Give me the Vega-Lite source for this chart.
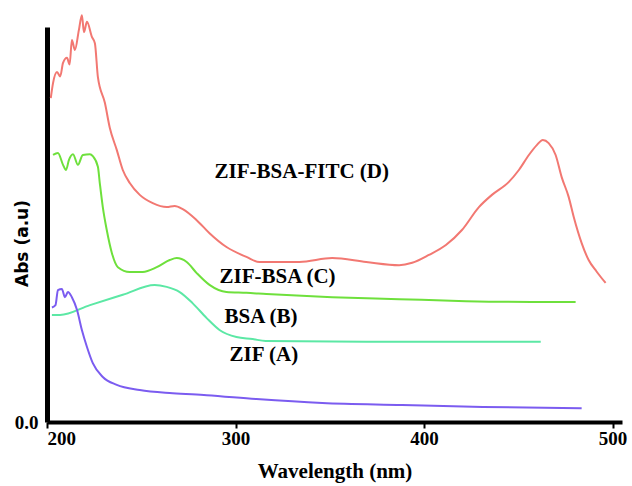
{
  "$schema": "https://vega.github.io/schema/vega-lite/v6.json",
  "width": 575,
  "height": 395,
  "autosize": "none",
  "padding": {"left": 47, "top": 27, "right": 10, "bottom": 64},
  "background": "white",
  "config": {"view": {"stroke": null}},
  "layer": [
    {
      "data": {"values": [
        {"s":"D","wl":202.0,"abs":0.82},{"s":"D","wl":203.2,"abs":0.858},{"s":"D","wl":205.3,"abs":0.886},{"s":"D","wl":207.0,"abs":0.875},{"s":"D","wl":208.5,"abs":0.909},{"s":"D","wl":210.6,"abs":0.922},{"s":"D","wl":212.0,"abs":0.905},{"s":"D","wl":213.2,"abs":0.967},{"s":"D","wl":214.8,"abs":0.942},{"s":"D","wl":216.9,"abs":0.992},{"s":"D","wl":218.5,"abs":1.030},{"s":"D","wl":219.6,"abs":0.987},{"s":"D","wl":221.2,"abs":1.013},{"s":"D","wl":223.8,"abs":0.975},{"s":"D","wl":225.4,"abs":0.959},{"s":"D","wl":227.0,"abs":0.873},{"s":"D","wl":230.7,"abs":0.808},{"s":"D","wl":233.3,"abs":0.745},{"s":"D","wl":237.0,"abs":0.689},{"s":"D","wl":240.2,"abs":0.638},{"s":"D","wl":243.9,"abs":0.605},{"s":"D","wl":249.2,"abs":0.575},{"s":"D","wl":256.1,"abs":0.554},{"s":"D","wl":263.5,"abs":0.544},{"s":"D","wl":267.7,"abs":0.547},{"s":"D","wl":272.0,"abs":0.539},{"s":"D","wl":279.4,"abs":0.511},{"s":"D","wl":286.2,"abs":0.478},{"s":"D","wl":295.2,"abs":0.443},{"s":"D","wl":305.8,"abs":0.418},{"s":"D","wl":312.7,"abs":0.405},{"s":"D","wl":333.9,"abs":0.405},{"s":"D","wl":351.3,"abs":0.415},{"s":"D","wl":369.3,"abs":0.405},{"s":"D","wl":386.8,"abs":0.397},{"s":"D","wl":393.7,"abs":0.403},{"s":"D","wl":402.6,"abs":0.423},{"s":"D","wl":411.6,"abs":0.448},{"s":"D","wl":420.1,"abs":0.486},{"s":"D","wl":429.1,"abs":0.544},{"s":"D","wl":436.0,"abs":0.575},{"s":"D","wl":445.0,"abs":0.608},{"s":"D","wl":450.3,"abs":0.638},{"s":"D","wl":455.6,"abs":0.676},{"s":"D","wl":459.8,"abs":0.701},{"s":"D","wl":463.0,"abs":0.714},{"s":"D","wl":466.1,"abs":0.706},{"s":"D","wl":469.8,"abs":0.676},{"s":"D","wl":473.0,"abs":0.620},{"s":"D","wl":476.7,"abs":0.570},{"s":"D","wl":479.4,"abs":0.519},{"s":"D","wl":483.6,"abs":0.453},{"s":"D","wl":487.3,"abs":0.410},{"s":"D","wl":491.5,"abs":0.381},{"s":"D","wl":496.3,"abs":0.352},
        {"s":"C","wl":203.2,"abs":0.676},{"s":"C","wl":205.8,"abs":0.681},{"s":"C","wl":208.5,"abs":0.651},{"s":"C","wl":210.1,"abs":0.638},{"s":"C","wl":211.6,"abs":0.663},{"s":"C","wl":213.8,"abs":0.678},{"s":"C","wl":216.4,"abs":0.651},{"s":"C","wl":219.0,"abs":0.676},{"s":"C","wl":222.8,"abs":0.678},{"s":"C","wl":224.3,"abs":0.673},{"s":"C","wl":227.0,"abs":0.646},{"s":"C","wl":228.0,"abs":0.605},{"s":"C","wl":229.6,"abs":0.544},{"s":"C","wl":231.7,"abs":0.486},{"s":"C","wl":234.4,"abs":0.428},{"s":"C","wl":237.6,"abs":0.392},{"s":"C","wl":243.9,"abs":0.380},{"s":"C","wl":250.8,"abs":0.380},{"s":"C","wl":258.2,"abs":0.392},{"s":"C","wl":265.1,"abs":0.410},{"s":"C","wl":268.8,"abs":0.415},{"s":"C","wl":274.1,"abs":0.405},{"s":"C","wl":279.4,"abs":0.377},{"s":"C","wl":286.2,"abs":0.347},{"s":"C","wl":295.2,"abs":0.329},{"s":"C","wl":305.8,"abs":0.327},{"s":"C","wl":316.4,"abs":0.324},{"s":"C","wl":351.3,"abs":0.316},{"s":"C","wl":386.8,"abs":0.311},{"s":"C","wl":422.2,"abs":0.306},{"s":"C","wl":457.1,"abs":0.304},{"s":"C","wl":480.4,"abs":0.304},
        {"s":"B","wl":202.6,"abs":0.271},{"s":"B","wl":206.9,"abs":0.271},{"s":"B","wl":222.8,"abs":0.296},{"s":"B","wl":240.2,"abs":0.322},{"s":"B","wl":257.1,"abs":0.347},{"s":"B","wl":263.5,"abs":0.342},{"s":"B","wl":270.4,"abs":0.329},{"s":"B","wl":277.2,"abs":0.301},{"s":"B","wl":284.7,"abs":0.263},{"s":"B","wl":291.5,"abs":0.233},{"s":"B","wl":300.5,"abs":0.215},{"s":"B","wl":309.0,"abs":0.210},{"s":"B","wl":316.0,"abs":0.205},{"s":"B","wl":369.3,"abs":0.203},{"s":"B","wl":461.9,"abs":0.203},
        {"s":"A","wl":202.6,"abs":0.290},{"s":"A","wl":204.5,"abs":0.296},{"s":"A","wl":205.8,"abs":0.334},{"s":"A","wl":207.9,"abs":0.337},{"s":"A","wl":209.5,"abs":0.316},{"s":"A","wl":211.1,"abs":0.329},{"s":"A","wl":213.2,"abs":0.316},{"s":"A","wl":215.9,"abs":0.284},{"s":"A","wl":218.5,"abs":0.233},{"s":"A","wl":221.2,"abs":0.190},{"s":"A","wl":224.3,"abs":0.149},{"s":"A","wl":229.6,"abs":0.114},{"s":"A","wl":237.0,"abs":0.094},{"s":"A","wl":249.2,"abs":0.081},{"s":"A","wl":266.7,"abs":0.073},{"s":"A","wl":284.7,"abs":0.068},{"s":"A","wl":311.1,"abs":0.058},{"s":"A","wl":346.0,"abs":0.048},{"s":"A","wl":388.4,"abs":0.043},{"s":"A","wl":431.2,"abs":0.038},{"s":"A","wl":483.6,"abs":0.035}
      ]},
      "mark": {"type": "line", "strokeWidth": 2, "clip": false, "interpolate": "monotone"},
      "encoding": {
        "x": {"field": "wl", "type": "quantitative",
              "scale": {"domain": [200, 505], "nice": false, "zero": false},
              "axis": {"values": [200, 300, 400, 500], "title": "Wavelength  (nm)", "grid": false,
                       "domainColor": "black", "domainWidth": 4, "tickColor": "black", "tickWidth": 2, "tickSize": 6,
                       "labelFont": "Liberation Serif", "labelFontSize": 19, "labelFontWeight": "bold", "labelColor": "black",
                       "labelFlush": true, "labelPadding": 1,
                       "titleFont": "Liberation Serif", "titleFontSize": 21, "titleFontWeight": "bold", "titleColor": "black", "titlePadding": 12}},
        "y": {"field": "abs", "type": "quantitative",
              "scale": {"domain": [0, 1], "nice": false},
              "axis": {"values": [0], "format": ".1f", "title": "Abs (a.u)", "grid": false,
                       "domainColor": "black", "domainWidth": 5, "ticks": false,
                       "labelFont": "Liberation Serif", "labelFontSize": 19, "labelFontWeight": "bold", "labelColor": "black", "labelPadding": 9,
                       "titleFont": "DejaVu Sans", "titleFontSize": 17, "titleFontWeight": "bold", "titleColor": "black",
                       "titleX": -25, "titleY": 216, "titleAlign": "center", "titleBaseline": "middle"}},
        "color": {"field": "s", "type": "nominal", "legend": null,
                  "scale": {"domain": ["A", "B", "C", "D"], "range": ["#7b5cf0", "#5ce8a5", "#6ee03c", "#f27872"]}},
        "detail": {"field": "s"}
      }
    },
    {
      "data": {"values": [
        {"t": "ZIF-BSA-FITC (D)", "wl": 288.9, "abs": 0.633},
        {"t": "ZIF-BSA (C)", "wl": 291.5, "abs": 0.367},
        {"t": "BSA (B)", "wl": 294.2, "abs": 0.266},
        {"t": "ZIF (A)", "wl": 296.8, "abs": 0.170}
      ]},
      "mark": {"type": "text", "align": "left", "baseline": "middle", "font": "Liberation Serif", "fontSize": 21, "fontWeight": "bold", "color": "black"},
      "encoding": {
        "x": {"field": "wl", "type": "quantitative"},
        "y": {"field": "abs", "type": "quantitative"},
        "text": {"field": "t"}
      }
    }
  ]
}
